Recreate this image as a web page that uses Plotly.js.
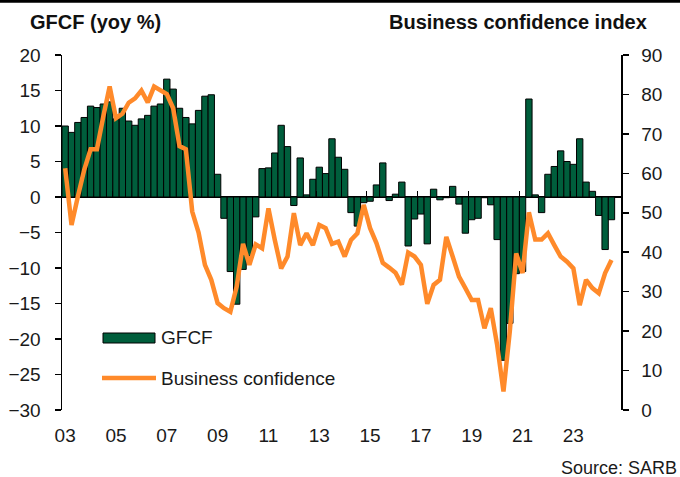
<!DOCTYPE html>
<html>
<head>
<meta charset="utf-8">
<script src="https://cdn.plot.ly/plotly-3.0.1.min.js"></script>
<style>
html,body{margin:0;padding:0;background:#fff;}
#chart{width:680px;height:477px;}
</style>
</head>
<body>
<div id="chart"></div>
<script>
// Quarterly data, 2003Q1 .. 2024Q3
const startYear = 2003;
const gfcf = [
  10.0, 9.1, 10.5, 11.2,
  12.8, 12.6, 13.1, 13.4,
  11.0, 12.5, 10.7, 10.1,
  11.0, 11.5, 12.8, 13.1,
  16.6, 15.2, 12.5, 11.2,
  10.3, 12.2, 14.2, 14.4,
  3.2, -3.0, -10.5, -15.1,
  -10.2, -8.3, -2.8, 4.0,
  4.1, 6.2, 10.1, 7.1,
  -1.2, 5.5, 0.3, 2.5,
  4.2, 3.3, 8.2, 5.6,
  3.9, -2.2, -4.1, -0.8,
  -0.6, 1.7, 4.8, -0.5,
  0.4, 2.1, -6.9, -3.1,
  -2.4, -6.6, 1.1, -0.4,
  -0.1, 1.5, -1.0, -5.1,
  -3.2, -3.0, -0.1, -1.1,
  -6.0, -23.0, -17.8, -10.8,
  -10.5, 13.8, 0.3, -2.2,
  3.2, 4.3, 6.5, 5.0,
  4.6, 8.2, 2.1, 0.8,
  -2.6, -7.4, -3.2
];
const bci = [
  61.3, 46.9, 54.1, 60.9,
  66.1, 66.1, 74.4, 82.0,
  74.0, 75.1, 77.9, 79.0,
  81.0, 78.0, 82.0, 81.0,
  80.1, 76.5, 66.9, 66.1,
  50.3, 45.0, 36.8, 33.0,
  27.1, 25.8, 24.9, 31.3,
  42.1, 36.8, 42.0, 41.0,
  51.1, 43.1, 35.9, 38.9,
  49.9, 41.8, 44.8, 41.8,
  46.9, 46.1, 42.1, 42.7,
  38.9, 43.1, 44.8, 52.0,
  46.1, 42.3, 37.3, 36.1,
  34.8, 31.8, 39.9, 38.9,
  36.8, 26.9, 31.7, 33.0,
  43.9, 38.9, 33.8, 30.9,
  27.9, 27.9, 20.7, 25.8,
  16.5, 4.7, 20.0, 39.7,
  34.7, 50.1, 43.2, 43.2,
  44.8, 41.8, 38.9, 37.6,
  35.9, 26.6, 33.0, 30.9,
  29.6, 34.7, 38.0
];
const tickYears = [2003, 2005, 2007, 2009, 2011, 2013, 2015, 2017, 2019, 2021, 2023];
const tickLabels = ['03', '05', '07', '09', '11', '13', '15', '17', '19', '21', '23'];

// quarter mid-points as decimal years
const xq = gfcf.map((_, i) => startYear + Math.floor(i / 4) + (i % 4) * 0.25 + 0.125);

const FONT = 'Liberation Sans, Arial, sans-serif';
const GREEN = '#005e3c';
const ORANGE = '#ff8a2a';

// pixel helpers (plot area 62..621 x 55..410)
const L = 62, R = 621, T = 55, B = 410;
const px = v => (v - L) / (R - L);
const py = v => (B - v) / (B - T);

const traces = [
  {
    type: 'bar', x: xq, y: gfcf, width: 0.25, name: 'GFCF',
    marker: {color: GREEN, line: {color: '#000', width: 1}},
    xaxis: 'x', yaxis: 'y', hoverinfo: 'x+y'
  },
  {
    type: 'scatter', mode: 'lines', x: [], y: [], xaxis: 'x2', yaxis: 'y',
    showlegend: false, hoverinfo: 'skip'
  },
  {
    type: 'scatter', mode: 'lines', x: xq.slice(0, bci.length), y: bci, name: 'Business confidence',
    line: {color: ORANGE, width: 4.5}, xaxis: 'x', yaxis: 'y2'
  }
];

const layout = {
  width: 680, height: 477,
  margin: {l: L, r: 680 - R, t: T, b: 477 - B, pad: 0},
  paper_bgcolor: '#fff', plot_bgcolor: '#fff',
  showlegend: false,
  bargap: 0,
  font: {family: FONT, size: 19, color: '#1a1a1a'},
  xaxis: {
    range: [2003, 2025],
    tickvals: tickYears.map(y => y + 0.125), ticktext: tickLabels,
    ticks: '', showline: false, showgrid: false, zeroline: false,
    tickfont: {family: FONT, size: 19, color: '#1a1a1a'},
    ticklabelstandoff: 12
  },
  xaxis2: {
    overlaying: 'x', anchor: 'free', position: py(197.3), matches: 'x',
    range: [2003, 2025], tickvals: tickYears.concat([2025]),
    ticks: 'inside', ticklen: 6, tickwidth: 1, tickcolor: '#000',
    showticklabels: false, showline: false, showgrid: false, zeroline: false
  },
  yaxis: {
    range: [-30, 20], dtick: 5, tick0: 0,
    showline: true, linecolor: '#000', linewidth: 1.5,
    ticks: 'outside', ticklen: 6, tickwidth: 1.5, tickcolor: '#000',
    showgrid: false, zeroline: true, zerolinecolor: '#000', zerolinewidth: 1.5,
    tickfont: {family: FONT, size: 19, color: '#1a1a1a'},
    ticklabelstandoff: 10
  },
  yaxis2: {
    overlaying: 'y', side: 'right', anchor: 'x',
    range: [0, 90], dtick: 10, tick0: 0,
    showline: true, linecolor: '#000', linewidth: 1.5,
    ticks: 'outside', ticklen: 6, tickwidth: 1.5, tickcolor: '#000',
    showgrid: false, zeroline: false,
    tickfont: {family: FONT, size: 19, color: '#1a1a1a'},
    ticklabelstandoff: 9
  },
  shapes: [
    {type: 'line', xref: 'paper', yref: 'paper', x0: px(0), x1: px(680), y0: py(1.2), y1: py(1.2),
     line: {color: '#000', width: 3}},
    {type: 'rect', xref: 'paper', yref: 'paper', x0: px(103), x1: px(155), y0: py(343), y1: py(333),
     fillcolor: GREEN, line: {color: '#000', width: 1}},
    {type: 'line', xref: 'paper', yref: 'paper', x0: px(102), x1: px(156), y0: py(378), y1: py(378),
     line: {color: ORANGE, width: 4.5}}
  ],
  annotations: [
    {text: 'GFCF (yoy %)', xref: 'paper', yref: 'paper', x: px(28), y: py(22),
     xanchor: 'left', yanchor: 'middle', showarrow: false,
     font: {family: FONT, size: 20, weight: 'bold', color: '#111'}},
    {text: 'Business confidence index', xref: 'paper', yref: 'paper', x: px(649), y: py(22),
     xanchor: 'right', yanchor: 'middle', showarrow: false,
     font: {family: FONT, size: 20, weight: 'bold', color: '#111'}},
    {text: 'GFCF', xref: 'paper', yref: 'paper', x: px(159), y: py(337),
     xanchor: 'left', yanchor: 'middle', showarrow: false,
     font: {family: FONT, size: 19, color: '#1a1a1a'}},
    {text: 'Business confidence', xref: 'paper', yref: 'paper', x: px(159), y: py(378),
     xanchor: 'left', yanchor: 'middle', showarrow: false,
     font: {family: FONT, size: 19, color: '#1a1a1a'}},
    {text: 'Source: SARB', xref: 'paper', yref: 'paper', x: px(679), y: py(468),
     xanchor: 'right', yanchor: 'middle', showarrow: false,
     font: {family: FONT, size: 18, color: '#1a1a1a'}}
  ]
};

Plotly.newPlot('chart', traces, layout, {displayModeBar: false, staticPlot: true});
</script>
</body>
</html>
